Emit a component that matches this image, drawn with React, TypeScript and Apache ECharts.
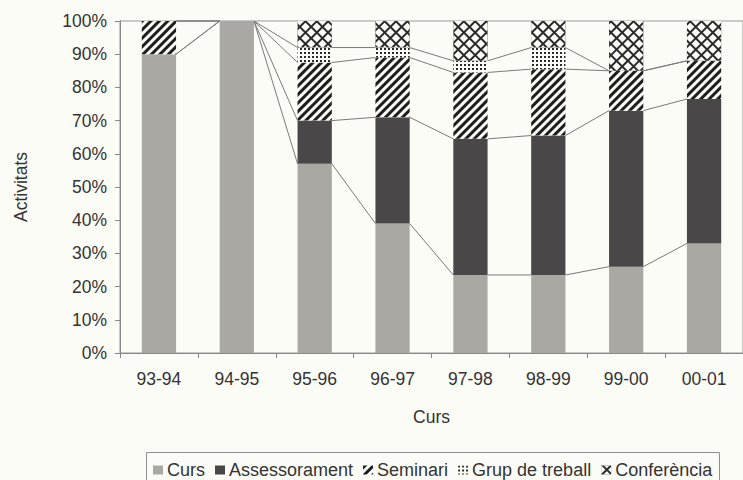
import React, { useEffect, useRef } from "react";
import * as echarts from "echarts";

const categories = ["93-94", "94-95", "95-96", "96-97", "97-98", "98-99", "99-00", "00-01"];
const curs = [90, 100, 57, 39, 23.5, 23.5, 26, 33];
const assessorament = [0, 0, 13, 32, 41, 42, 47, 43.5];
const seminari = [10, 0, 17.5, 18, 20, 20, 12, 11.5];
const grupTreball = [0, 0, 4.5, 3, 3.5, 6.5, 0, 0];
const conferencia = [0, 0, 8, 8, 12, 8, 15, 12];
const seriesNames = ["Curs", "Assessorament", "Seminari", "Grup de treball", "Conferència"];

const FONT = "'Liberation Sans', Arial, sans-serif";
const BG = "#fcfcf7";
const TXT = "#333333";
const BAR_W = 0.44;

export default function App() {
  const ref = useRef<HTMLDivElement>(null);
  useEffect(() => {
    if (!ref.current) return;
    const chart = echarts.init(ref.current, null, { renderer: "svg" });
    const all = [curs, assessorament, seminari, grupTreball, conferencia];
    const lineData: number[][] = [];
    for (let k = 0; k < 4; k++) {
      for (let i = 0; i < categories.length - 1; i++) {
        let a = 0, b = 0;
        for (let s = 0; s <= k; s++) { a += all[s][i]; b += all[s][i + 1]; }
        lineData.push([i, a, b]);
      }
    }
    const styles: any[] = [
      { color: "#a9a8a3" },
      { color: "#4a4748" },
      { color: BG, decal: { symbol: "rect", symbolSize: 1, color: "#1e1e1e", dashArrayX: [1, 0], dashArrayY: [3, 3], rotation: -Math.PI / 4 } },
      { color: BG, decal: { symbol: "rect", symbolSize: 1, color: "#2a2a2a", dashArrayX: [2, 2], dashArrayY: [2, 2], rotation: 0 } },
      { color: "#2a2a2a", decal: { symbol: "rect", symbolSize: 1, color: BG, dashArrayX: [6, 1.2], dashArrayY: [6, 1.2], rotation: Math.PI / 4 } },
    ];
    const barSeries = all.map((d, k) => ({
      name: seriesNames[k],
      type: "bar",
      stack: "total",
      barWidth: BAR_W * 100 + "%",
      data: d,
      itemStyle: styles[k],
      emphasis: { disabled: true },
    }));
    const option: any = {
      animation: false,
      backgroundColor: BG,
      textStyle: { fontFamily: FONT },
      grid: { left: 120, right: 0, top: 21, bottom: 127, show: true, borderColor: "#999", borderWidth: 1, backgroundColor: "transparent" },
      graphic: {
        elements: [
          {
            type: "polyline",
            silent: true,
            z: 100,
            shape: { points: [[146.5, 480], [146.5, 452.5], [719.5, 452.5], [719.5, 480]] },
            style: { stroke: "#8f8f8f", lineWidth: 1, fill: null },
          },
        ],
      },
      legend: {
        data: seriesNames,
        left: 146,
        top: 453,
        orient: "horizontal",
        padding: [8, 7, 8, 7],
        itemGap: 10,
        itemWidth: 10,
        itemHeight: 9,
        icon: "rect",
        textStyle: { fontFamily: FONT, fontSize: 18, color: TXT, padding: [0, 0, 0, -1] },
      },
      xAxis: {
        type: "category",
        data: categories,
        name: "Curs",
        nameLocation: "middle",
        nameGap: 55,
        nameTextStyle: { fontFamily: FONT, fontSize: 17.5, color: TXT },
        axisLine: { lineStyle: { color: "#888" } },
        axisTick: { show: true, length: 5, alignWithLabel: false, lineStyle: { color: "#888" } },
        axisLabel: { fontFamily: FONT, fontSize: 17.5, color: TXT, margin: 17 },
        splitLine: { show: false },
      },
      yAxis: {
        type: "value",
        min: 0,
        max: 100,
        interval: 10,
        name: "Activitats",
        nameLocation: "middle",
        nameRotate: 90,
        nameGap: 90,
        nameTextStyle: { fontFamily: FONT, fontSize: 17.5, color: TXT },
        axisLine: { show: true, lineStyle: { color: "#888" } },
        axisTick: { show: true, length: 5, lineStyle: { color: "#888" } },
        axisLabel: { fontFamily: FONT, fontSize: 17.5, color: TXT, margin: 13, formatter: "{value}%" },
        splitLine: { show: false },
      },
      series: [
        ...barSeries,
        {
          type: "custom",
          name: "serieslines",
          silent: true,
          coordinateSystem: "cartesian2d",
          encode: { x: 0, y: 1 },
          data: lineData,
          z: 1,
          renderItem: (params: any, api: any) => {
            const i = api.value(0);
            const p0 = api.coord([i, api.value(1)]);
            const p1 = api.coord([i + 1, api.value(2)]);
            const bw = api.size([1, 0])[0] * BAR_W;
            return {
              type: "line",
              shape: { x1: p0[0] + bw / 2, y1: p0[1], x2: p1[0] - bw / 2, y2: p1[1] },
              style: { stroke: "#7a7a7a", lineWidth: 1 },
            };
          },
        },
      ],
    };
    chart.setOption(option);
    return () => chart.dispose();
  }, []);
  return (
    <div
      ref={ref}
      style={{ position: "fixed", left: 0, top: 0, width: 743, height: 480, background: BG }}
    />
  );
}
